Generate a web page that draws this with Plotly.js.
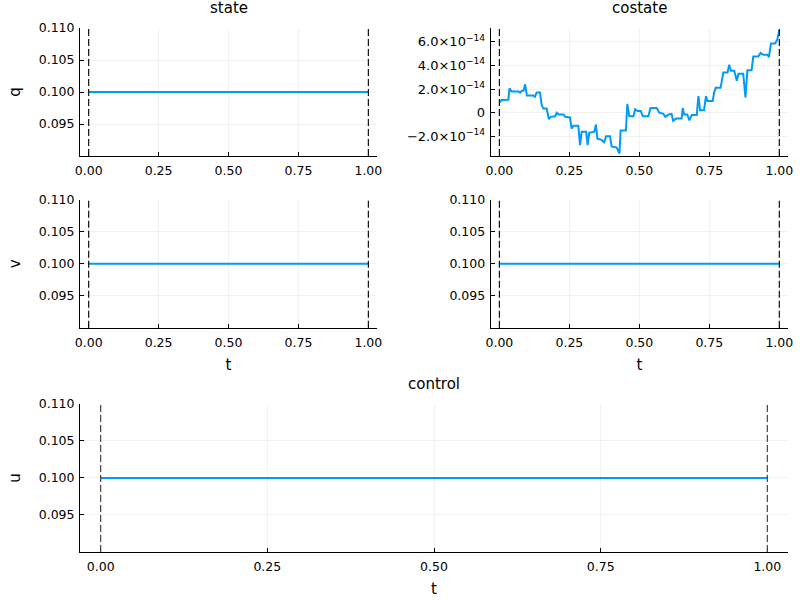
<!DOCTYPE html>
<html>
<head>
<meta charset="utf-8">
<script src="https://cdn.plot.ly/plotly-3.0.1.min.js"></script>
<style>html,body{margin:0;padding:0;background:#fff}#chart{width:800px;height:600px}</style>
</head>
<body>
<div id="chart"></div>
<script>
// ---- data ----
const tTime = [0, 0.25, 0.5, 0.75, 1];
const qState = [0.1, 0.1, 0.1, 0.1, 0.1];
const vState = [0.1, 0.1, 0.1, 0.1, 0.1];
const pCostate = [0.1, 0.1, 0.1, 0.1, 0.1];
const uControl = [0.1, 0.1, 0.1, 0.1, 0.1];
const tCostate = [0.000,0.008,0.032,0.036,0.044,0.068,0.074,0.080,0.086,0.092,0.098,0.121,0.127,0.133,0.145,0.151,0.157,0.169,0.177,0.183,0.199,0.205,0.211,0.229,0.235,0.252,0.258,0.264,0.282,0.288,0.294,0.310,0.315,0.321,0.339,0.345,0.350,0.365,0.374,0.381,0.395,0.401,0.419,0.429,0.433,0.452,0.457,0.464,0.479,0.485,0.493,0.505,0.512,0.532,0.540,0.562,0.571,0.586,0.593,0.605,0.615,0.621,0.631,0.651,0.655,0.660,0.671,0.679,0.687,0.705,0.711,0.717,0.731,0.738,0.743,0.762,0.767,0.773,0.790,0.800,0.815,0.821,0.827,0.839,0.848,0.854,0.871,0.879,0.886,0.901,0.907,0.925,0.933,0.943,0.958,0.963,0.970,0.985,0.993,1.000];
const qCostate = [0.85,1.07,1.1,2.05,1.8,1.8,1.7,1.85,1.85,2.4,1.45,1.45,1.35,1.7,1.7,0.65,0.35,0.35,-0.55,-0.35,-0.3,0.0,-0.15,-0.15,-0.35,-0.4,-1.35,-1.1,-1.1,-2.75,-1.6,-1.6,-2.75,-1.7,-1.6,-1.0,-2.2,-2.3,-2.5,-2.0,-2.0,-2.85,-2.95,-3.45,-1.5,-1.5,0.75,-0.3,-0.3,0.3,0.15,0.15,-0.3,-0.3,0.4,0.4,0.0,-0.1,-0.35,-0.15,-0.1,-0.7,-0.5,-0.5,0.4,-0.15,-0.15,-0.65,-0.2,-0.2,1.4,0.2,0.2,1.4,1.0,1.0,1.7,2.1,2.1,3.4,3.4,4.05,3.55,3.55,2.7,3.3,3.3,1.3,3.6,3.6,4.75,4.75,5.05,4.9,4.9,4.7,5.85,5.85,6.2,7.0].map(v => v * 1e-14);
const boundaryTimes = [0, 1];
const timeTicks = [0, 0.25, 0.5, 0.75, 1];
const timeTickText = ["0.00", "0.25", "0.50", "0.75", "1.00"];
const stateTicks = [0.095, 0.100, 0.105, 0.110];
const stateTickText = ["0.095", "0.100", "0.105", "0.110"];
const costateTicks = [-2e-14, 0, 2e-14, 4e-14, 6e-14];
const costateTickText = ["\u22122.0\u00d710<sup>\u221214</sup>", "0", "2.0\u00d710<sup>\u221214</sup>", "4.0\u00d710<sup>\u221214</sup>", "6.0\u00d710<sup>\u221214</sup>"];

// ---- style ----
const blue = "#009AFA";
const FONT = "DejaVu Sans, sans-serif";
const lineStyle = {color: blue, width: 2};
const TICK = 12.5;

function mkTrace(x, y, xa, ya) {
  return {x: x, y: y, xaxis: xa, yaxis: ya, type: "scatter", mode: "lines", line: lineStyle, showlegend: false, hoverinfo: "skip"};
}
const traces = [
  mkTrace(tTime, qState, "x", "y"),
  mkTrace(tCostate, qCostate, "x2", "y2"),
  mkTrace(tTime, vState, "x3", "y3"),
  mkTrace(tTime, pCostate, "x4", "y4"),
  mkTrace(tTime, uControl, "x5", "y5")
];

function xAxis(domain, anchor, title) {
  const a = {
    domain: domain, anchor: anchor, range: [-0.031, 1.031],
    tickvals: timeTicks, ticktext: timeTickText,
    showgrid: true, gridcolor: "rgba(0,0,0,0.1)", gridwidth: 0.5,
    zeroline: false, showline: true, linecolor: "#000", linewidth: 1,
    ticks: "inside", ticklen: 4, tickcolor: "#000", ticklabelstandoff: 3,
    tickfont: {family: FONT, size: TICK, color: "#000"}, mirror: false
  };
  if (title) a.title = {text: title, font: {family: FONT, size: 15, color: "#000"}, standoff: 10};
  return a;
}
function yAxis(domain, anchor, title, range, tv, tt, tsize) {
  const a = {
    domain: domain, anchor: anchor, range: range,
    tickvals: tv, ticktext: tt,
    showgrid: true, gridcolor: "rgba(0,0,0,0.1)", gridwidth: 0.5,
    zeroline: false, showline: true, linecolor: "#000", linewidth: 1,
    ticks: "inside", ticklen: 4, tickcolor: "#000", ticklabelstandoff: 2,
    tickfont: {family: FONT, size: tsize || TICK, color: "#000"}, mirror: false
  };
  if (title) a.title = {text: title, font: {family: FONT, size: 15, color: "#000"}, standoff: 14};
  return a;
}
const dL = [0.1, 0.4713], dR = [0.6134, 0.985], dW = [0.1, 0.985];
const r1 = [0.74, 0.9533], r2 = [0.4538, 0.6667], r3 = [0.08, 0.3267];
const sRange = [0.09, 0.11];

const shapes = [];
["x", "x2", "x3", "x4", "x5"].forEach((xa, i) => {
  const ya = ["y", "y2", "y3", "y4", "y5"][i];
  boundaryTimes.forEach(tb => {
    shapes.push({type: "line", xref: xa, yref: ya + " domain", x0: tb, x1: tb, y0: 0, y1: 1,
      line: {color: i === 4 ? "#444" : "#111", width: 1.2, dash: "7px,3px"}});
  });
});

const titleFont = {family: FONT, size: 15, color: "#000"};
const layout = {
  width: 800, height: 600, margin: {l: 0, r: 0, t: 0, b: 0},
  paper_bgcolor: "#fff", plot_bgcolor: "#fff", showlegend: false,
  xaxis: xAxis(dL, "y"), yaxis: yAxis(r1, "x", "q", sRange, stateTicks, stateTickText),
  xaxis2: xAxis(dR, "y2"), yaxis2: yAxis(r1, "x2", null, [-3.66e-14, 7.16e-14], costateTicks, costateTickText, 13),
  xaxis3: xAxis(dL, "y3", "t"), yaxis3: yAxis(r2, "x3", "v", sRange, stateTicks, stateTickText),
  xaxis4: xAxis(dR, "y4", "t"), yaxis4: yAxis(r2, "x4", null, sRange, stateTicks, stateTickText),
  xaxis5: xAxis(dW, "y5", "t"), yaxis5: yAxis(r3, "x5", "u", sRange, stateTicks, stateTickText),
  shapes: shapes,
  annotations: [
    {text: "state", xref: "paper", yref: "paper", x: (dL[0] + dL[1]) / 2, y: 1 - 8 / 600, xanchor: "center", yanchor: "middle", showarrow: false, font: titleFont},
    {text: "costate", xref: "paper", yref: "paper", x: (dR[0] + dR[1]) / 2, y: 1 - 8 / 600, xanchor: "center", yanchor: "middle", showarrow: false, font: titleFont},
    {text: "control", xref: "paper", yref: "paper", x: (dW[0] + dW[1]) / 2, y: 1 - 384 / 600, xanchor: "center", yanchor: "middle", showarrow: false, font: titleFont}
  ]
};
Plotly.newPlot("chart", traces, layout, {staticPlot: true, displayModeBar: false});
</script>
</body>
</html>
